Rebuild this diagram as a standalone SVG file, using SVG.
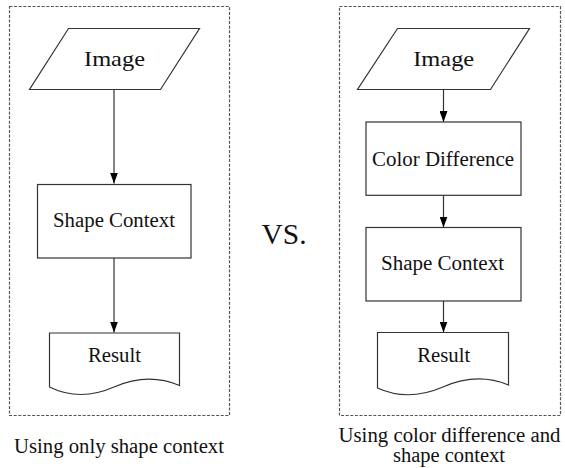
<svg xmlns="http://www.w3.org/2000/svg" width="565" height="468" viewBox="0 0 565 468">
<style>
.frame{fill:none;stroke:#555;stroke-width:1.2;stroke-dasharray:3 1.6}
.shape{fill:#fff;stroke:#333;stroke-width:1.2}
.conn{stroke:#333;stroke-width:1.2;fill:none;marker-end:url(#ah)}
.t{font-family:'Liberation Serif','Times New Roman',serif;fill:#111;text-anchor:middle}
</style>
<defs>
<marker id="ah" viewBox="0 0 11 8" refX="11" refY="4" markerWidth="11" markerHeight="8" markerUnits="userSpaceOnUse" orient="auto">
<path d="M0,0 L11,4 L0,8 Z" fill="#000"/>
</marker>
</defs>
<rect class="frame" x="9.5" y="6.5" width="220" height="409"/>
<rect class="frame" x="339.5" y="6.5" width="221" height="409"/>
<g id="connectors">
<line class="conn" x1="114" y1="89" x2="114" y2="183.5"/>
<line class="conn" x1="114" y1="258" x2="114" y2="332.5"/>
<line class="conn" x1="443.5" y1="89" x2="443.5" y2="122"/>
<line class="conn" x1="443.5" y1="195" x2="443.5" y2="227.5"/>
<line class="conn" x1="443.5" y1="301" x2="443.5" y2="332.5"/>
</g>
<g id="l-image">
<polygon class="shape" points="68.5,28.5 199.5,28.5 160.5,89.5 29.5,89.5"/>
<text class="t" font-size="21" x="114.5" y="65.5" textLength="61" lengthAdjust="spacingAndGlyphs">Image</text>
</g>
<g id="l-shape">
<rect class="shape" x="37.5" y="184.5" width="153.5" height="73.5"/>
<text class="t" font-size="20" x="114" y="226.5" textLength="122" lengthAdjust="spacingAndGlyphs">Shape Context</text>
</g>
<g id="l-result">
<path class="shape" d="M49.5,333 H179.5 V385.5 Q148,372 114,387 Q80,402 49.5,387 Z"/>
<text class="t" font-size="20" x="114.5" y="361.7" textLength="53" lengthAdjust="spacingAndGlyphs">Result</text>
</g>
<g id="vs">
<text class="t" font-size="29" x="284" y="244.3" textLength="45" lengthAdjust="spacingAndGlyphs">VS.</text>
</g>
<g id="r-image">
<polygon class="shape" points="397.5,28.5 529.5,28.5 490.5,89.5 357.5,89.5"/>
<text class="t" font-size="21" x="443.7" y="65.5" textLength="61" lengthAdjust="spacingAndGlyphs">Image</text>
</g>
<g id="r-color">
<rect class="shape" x="366" y="122" width="155" height="73.3"/>
<text class="t" font-size="20" x="443" y="165.7" textLength="142" lengthAdjust="spacingAndGlyphs">Color Difference</text>
</g>
<g id="r-shape">
<rect class="shape" x="366" y="227.5" width="155" height="73.5"/>
<text class="t" font-size="20" x="442.5" y="270.3" textLength="123" lengthAdjust="spacingAndGlyphs">Shape Context</text>
</g>
<g id="r-result">
<path class="shape" d="M377.5,332.5 H508.5 V385 Q477,372 443,387 Q408,402 377.5,388 Z"/>
<text class="t" font-size="20" x="443.7" y="361.7" textLength="53" lengthAdjust="spacingAndGlyphs">Result</text>
</g>
<g id="captions">
<text class="t" font-size="20.5" x="119" y="452.5" textLength="210" lengthAdjust="spacingAndGlyphs">Using only shape context</text>
<text class="t" font-size="20.5" x="449.5" y="441.7" textLength="222" lengthAdjust="spacingAndGlyphs">Using color difference and</text>
<text class="t" font-size="20.5" x="449" y="461.7" textLength="112" lengthAdjust="spacingAndGlyphs">shape context</text>
</g>
</svg>
